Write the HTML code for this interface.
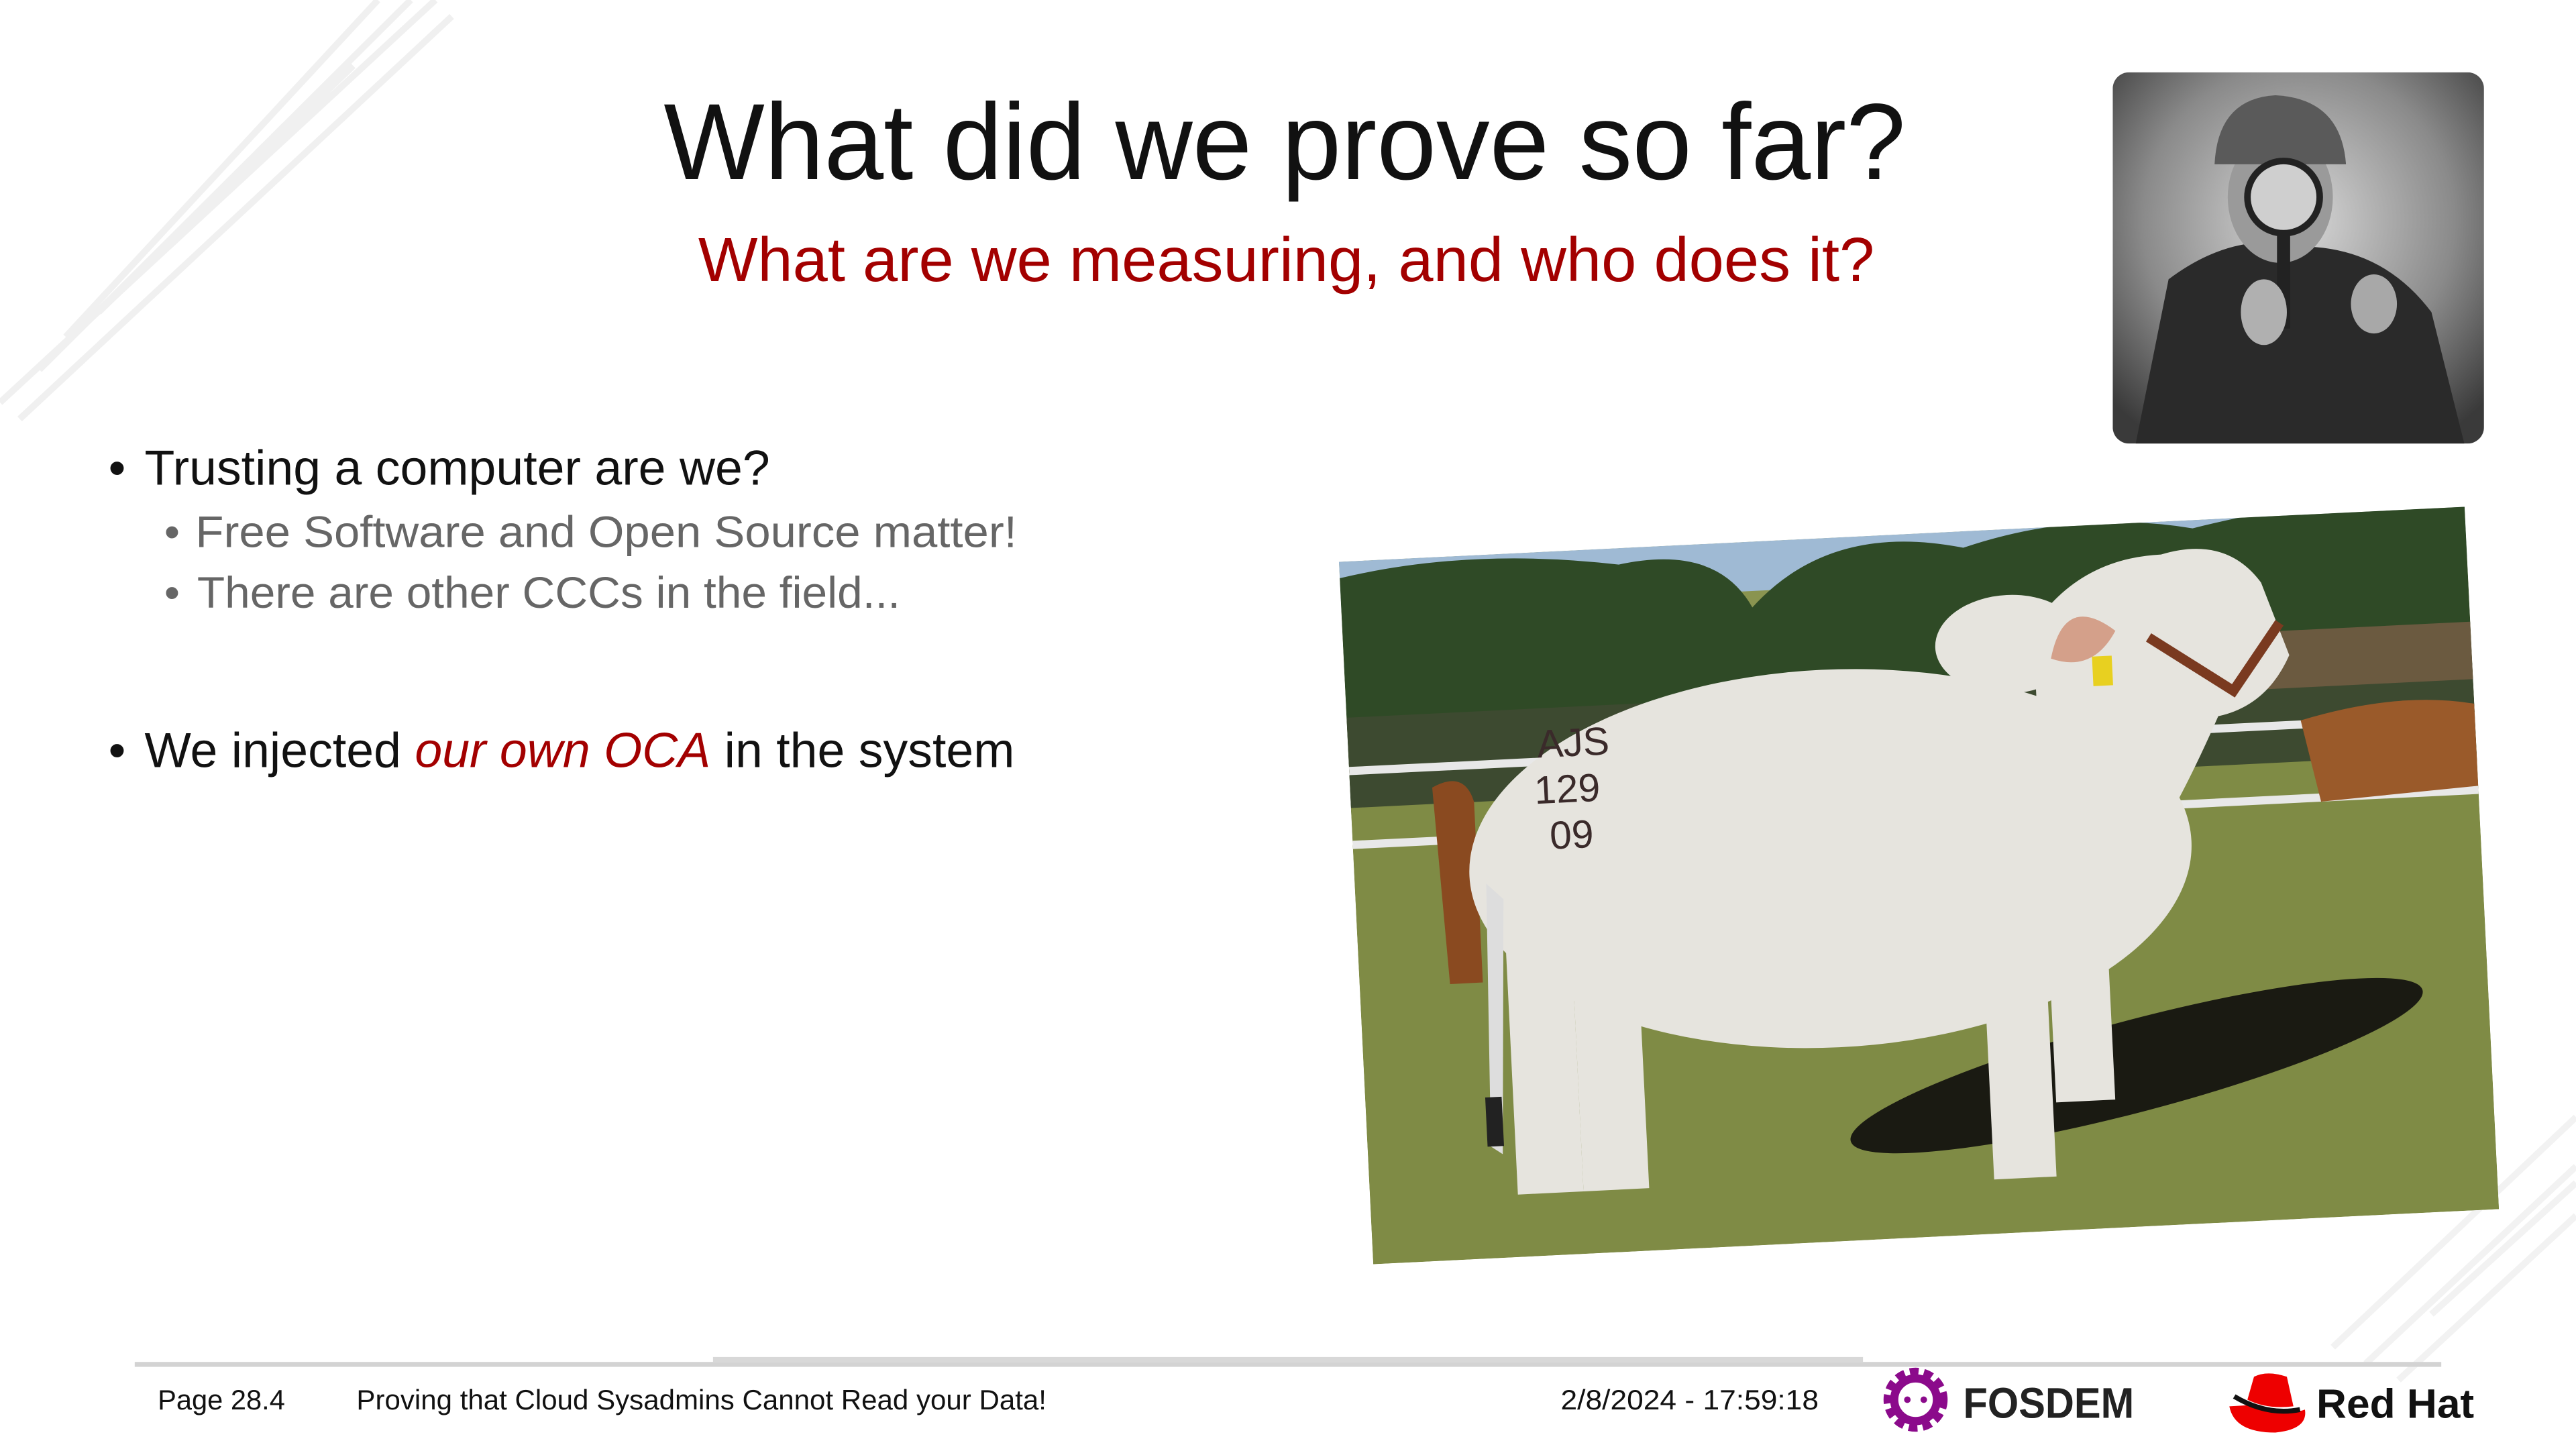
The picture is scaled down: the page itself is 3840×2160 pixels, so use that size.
<!DOCTYPE html>
<html><head><meta charset="utf-8"><style>
html,body{margin:0;padding:0;background:#fff;width:3840px;height:2160px;overflow:hidden}
svg{display:block}
text{font-family:"Liberation Sans",sans-serif}
</style></head><body>
<svg width="3840" height="2160" viewBox="0 0 1568 882" xmlns="http://www.w3.org/2000/svg">
<defs>
<radialGradient id="smoke" cx="0.5" cy="0.4" r="0.7"><stop offset="0" stop-color="#d8d8d8"/><stop offset="0.6" stop-color="#8a8a8a"/><stop offset="1" stop-color="#3a3a3a"/></radialGradient>
<clipPath id="sherClip"><rect x="1286" y="44" width="226" height="226" rx="10"/></clipPath>
<clipPath id="cowClip"><rect x="0" y="0" width="686" height="428"/></clipPath>
</defs>

<!-- background chevrons -->
<g stroke="#f0f0f0" stroke-width="4" fill="none">
<path d="M0 245 L265 0"/><path d="M12 255 L275 10"/><path d="M24 225 L250 0"/><path d="M40 205 L230 0"/>
<path d="M60 190 L215 40"/><path d="M80 170 L200 55"/><path d="M100 150 L185 70"/>
</g>
<g stroke="#f2f2f2" stroke-width="4" fill="none">
<path d="M1420 820 L1568 680"/><path d="M1440 830 L1568 710"/><path d="M1460 840 L1568 740"/><path d="M1480 800 L1568 720"/>
</g>

<!-- title -->
<text x="782" y="109" text-anchor="middle" font-size="66" fill="#111" textLength="756" lengthAdjust="spacingAndGlyphs">What did we prove so far?</text>
<text x="783" y="171" text-anchor="middle" font-size="38" fill="#a30000" textLength="716" lengthAdjust="spacingAndGlyphs">What are we measuring, and who does it?</text>

<!-- sherlock photo -->
<g clip-path="url(#sherClip)">
<rect x="1286" y="44" width="226" height="226" fill="url(#smoke)"/>
<path d="M1300 270 L1320 170 Q1360 140 1400 150 Q1450 150 1480 190 L1500 270 Z" fill="#2a2a2a"/>
<ellipse cx="1388" cy="120" rx="32" ry="40" fill="#9a9a9a"/>
<path d="M1348 100 Q1350 60 1385 58 Q1425 60 1428 100 Z" fill="#5a5a5a"/>
<circle cx="1390" cy="120" r="22" fill="#cfcfcf" stroke="#222" stroke-width="4"/>
<rect x="1386" y="140" width="8" height="60" fill="#222"/>
<ellipse cx="1378" cy="190" rx="14" ry="20" fill="#b0b0b0"/>
<ellipse cx="1445" cy="185" rx="14" ry="18" fill="#a8a8a8"/>
</g>

<!-- bullets -->
<g>
<text x="66" y="295" font-size="30" fill="#111">• <tspan x="88">Trusting a computer are we?</tspan></text>
<text x="100" y="333" font-size="27" fill="#666">• <tspan x="119" textLength="500" lengthAdjust="spacingAndGlyphs">Free Software and Open Source matter!</tspan></text>
<text x="100" y="370" font-size="27" fill="#666">• <tspan x="120" textLength="428" lengthAdjust="spacingAndGlyphs">There are other CCCs in the field...</tspan></text>
<text x="66" y="467" font-size="30" fill="#111">• <tspan x="88">We injected </tspan><tspan fill="#a30000" font-style="italic">our own OCA</tspan><tspan> in the system</tspan></text>
</g>

<!-- cow photo -->
<g transform="translate(815,342) rotate(-2.8)">
<g clip-path="url(#cowClip)">
<rect x="0" y="0" width="686" height="428" fill="#8a9450"/>
<rect x="0" y="0" width="686" height="30" fill="#9fbad4"/>
<path d="M0 10 Q80 -5 170 10 Q230 0 250 40 Q300 -10 380 10 Q450 -10 520 5 Q620 -15 686 0 L686 150 L0 150 Z" fill="#2f4a26"/>
<rect x="0" y="95" width="686" height="60" fill="#3d4a30"/>
<rect x="560" y="70" width="126" height="35" fill="#6b5a40"/>
<rect x="0" y="150" width="686" height="278" fill="#7f8b45"/>
<rect x="0" y="125" width="686" height="5" fill="#e8e8e8"/>
<rect x="0" y="170" width="686" height="5" fill="#e8e8e8"/>
<path d="M580 125 Q640 110 686 120 L686 170 L590 175 Z" fill="#9a5a2a"/>
<path d="M50 140 Q70 130 75 150 L75 260 L55 260 Z" fill="#8a4a20"/>
<ellipse cx="470" cy="330" rx="180" ry="28" fill="#1a1a12" transform="rotate(-12 470 330)"/>
<!-- cow -->
<g fill="#e6e4de">
<ellipse cx="290" cy="195" rx="220" ry="115"/>
<rect x="90" y="200" width="40" height="190"/>
<rect x="130" y="220" width="40" height="170"/>
<rect x="380" y="210" width="38" height="185"/>
<rect x="420" y="200" width="36" height="150"/>
<path d="M420 60 Q450 20 500 20 Q540 10 560 40 L575 85 Q560 115 530 120 Q480 220 450 230 L420 200 Z"/>
<ellipse cx="405" cy="70" rx="45" ry="30"/>
</g>
<path d="M470 65 Q440 40 430 80 Q455 90 470 65Z" fill="#d4a08a"/>
<path d="M490 70 L540 105 L570 65" stroke="#7a3a20" stroke-width="6" fill="none"/>
<rect x="455" y="80" width="12" height="18" fill="#e8d020"/>
<path d="M80 200 L75 360 L82 365 L90 210 Z" fill="#ddd"/>
<rect x="73" y="330" width="10" height="30" fill="#222"/>
<text x="115" y="125" font-size="24" fill="#3a2a2a" font-family="Liberation Sans">AJS</text>
<text x="112" y="153" font-size="24" fill="#3a2a2a" font-family="Liberation Sans">129</text>
<text x="120" y="181" font-size="24" fill="#3a2a2a" font-family="Liberation Sans">09</text>
</g>
</g>

<!-- footer -->
<g>
<rect x="82" y="829" width="1404" height="3" fill="#d3d3d3"/>
<rect x="434" y="826" width="700" height="3" fill="#d8d8d8"/>
<text x="96" y="858" font-size="17" fill="#111">Page 28.4</text>
<text x="217" y="858" font-size="17" fill="#111" textLength="420" lengthAdjust="spacingAndGlyphs">Proving that Cloud Sysadmins Cannot Read your Data!</text>
<text x="950" y="858" font-size="17" fill="#111" textLength="157" lengthAdjust="spacingAndGlyphs">2/8/2024 - 17:59:18</text>
<g>
<circle cx="1166" cy="852" r="16" fill="none" stroke="#8b0a8b" stroke-width="7" stroke-dasharray="5 3"/>
<circle cx="1166" cy="852" r="13" fill="none" stroke="#8b0a8b" stroke-width="5"/>
<circle cx="1161" cy="852" r="2" fill="#8b0a8b"/><circle cx="1171" cy="852" r="2" fill="#8b0a8b"/>
<text x="1195" y="863" font-size="26" font-weight="bold" fill="#222" textLength="104" lengthAdjust="spacingAndGlyphs">FOSDEM</text>
</g>
<g>
<path d="M1357 856 Q1360 872 1385 872 Q1405 870 1403 858 Q1392 862 1375 855 Z" fill="#e00"/>
<path d="M1368 852 L1372 838 Q1380 834 1392 838 L1396 856 Q1380 858 1368 852Z" fill="#e00"/>
<path d="M1360 850 Q1380 862 1400 858" stroke="#111" stroke-width="3" fill="none"/>
<text x="1410" y="863" font-size="25" font-weight="bold" fill="#111" textLength="96" lengthAdjust="spacingAndGlyphs">Red Hat</text>
</g>
</g>
</svg>
</body></html>
